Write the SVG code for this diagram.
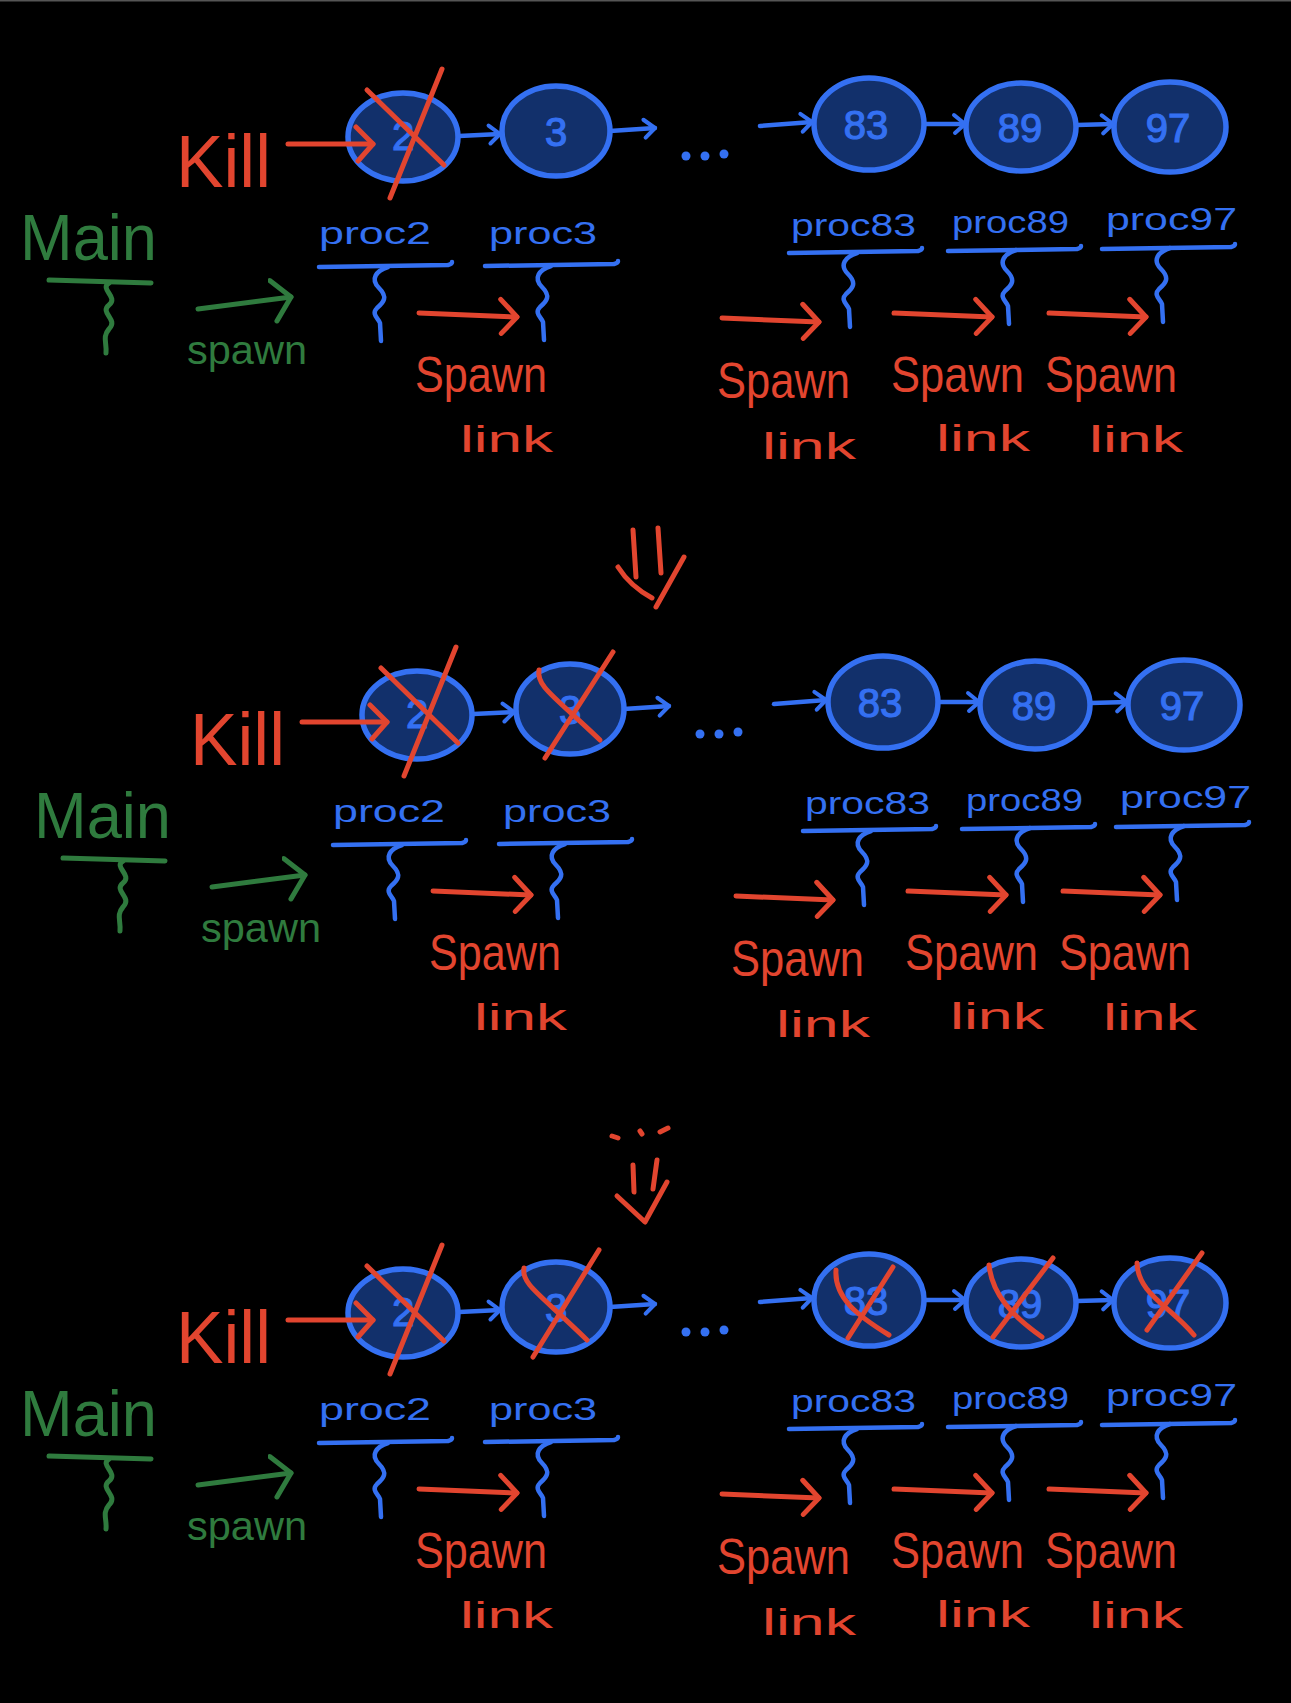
<svg xmlns="http://www.w3.org/2000/svg" xmlns:xlink="http://www.w3.org/1999/xlink" width="1291" height="1703" viewBox="0 0 1291 1703">
<style>
.bl{fill:none;stroke:#3470f2;stroke-width:4.5;stroke-linecap:round;stroke-linejoin:round}
.rd{fill:none;stroke:#e2452f;stroke-width:5;stroke-linecap:round;stroke-linejoin:round}
.gr{fill:none;stroke:#2f7b3e;stroke-width:5;stroke-linecap:round;stroke-linejoin:round}
.node{fill:#12306b;stroke:#3470f2;stroke-width:5.5}
.num{fill:#3470f2;stroke:#3470f2;stroke-width:1.2;font-family:"Liberation Sans",Arial,sans-serif;font-size:40px;text-anchor:middle}
.tb{fill:#3470f2;font-family:"Liberation Sans",Arial,sans-serif;font-size:32px}
.tr{fill:#e2452f;font-family:"Liberation Sans",Arial,sans-serif}
.tg{fill:#2f7b3e;font-family:"Liberation Sans",Arial,sans-serif}
.dot{fill:#3470f2}
</style>
<defs>
<marker id="hb" viewBox="0 0 18 24" refX="15" refY="12" markerWidth="18" markerHeight="24" markerUnits="userSpaceOnUse" orient="auto">
<path d="M4,3 L15,12 L5,21" fill="none" stroke="#3470f2" stroke-width="4" stroke-linecap="round" stroke-linejoin="round"/>
</marker>
<marker id="hr" viewBox="0 0 24 40" refX="21" refY="20" markerWidth="24" markerHeight="40" markerUnits="userSpaceOnUse" orient="auto">
<path d="M4,3 L21,20 L6,37" fill="none" stroke="#e2452f" stroke-width="5" stroke-linecap="round" stroke-linejoin="round"/>
</marker>
<marker id="hg" viewBox="0 0 24 48" refX="21" refY="22" markerWidth="24" markerHeight="48" markerUnits="userSpaceOnUse" orient="auto">
<path d="M2,3 L21,22 L4,44" fill="none" stroke="#2f7b3e" stroke-width="5" stroke-linecap="round" stroke-linejoin="round"/>
</marker>
<path id="sqb" d="M0,0 c-12,4 -18,12 -9,21 c9,9 5,14 -2,20 c-6,6 1,10 3,15 l1,18" class="bl"/>
<path id="sqg" d="M0,0 c-10,6 10,14 0,22 c-10,8 10,14 0,24 c-7,8 -2,14 -3,24" class="gr"/>
</defs>
<rect x="0" y="0" width="1291" height="1703" fill="#000"/>
<rect x="0" y="0" width="1291" height="1.5" fill="#555"/>

<!-- PANEL 1 -->
<g id="panel1">
<g id="p1-main">
<text class="tg" x="20" y="260" font-size="64" textLength="137" lengthAdjust="spacingAndGlyphs">Main</text>
<path class="gr" d="M49,280 L151,283"/>
<use xlink:href="#sqg" x="109" y="283"/>
</g>
<g id="p1-kill"><text class="tr" x="176" y="187" font-size="74" textLength="95" lengthAdjust="spacingAndGlyphs">Kill</text></g>
<g id="p1-n2"><ellipse class="node" cx="403" cy="137" rx="55" ry="44"/><text class="num" x="403" y="150" font-size="32">2</text>
<path class="rd" d="M367,90 L444,165 M442,69 L390,198"/></g>
<g id="p1-n3"><ellipse class="node" cx="556" cy="131" rx="54" ry="45"/><text class="num" x="556" y="146">3</text></g>
<g id="p1-n83"><ellipse class="node" cx="869" cy="124" rx="55" ry="46"/><text class="num" x="866" y="139">83</text></g>
<g id="p1-n89"><ellipse class="node" cx="1021" cy="127" rx="55" ry="44"/><text class="num" x="1020" y="142">89</text></g>
<g id="p1-n97"><ellipse class="node" cx="1170" cy="127" rx="56" ry="45"/><text class="num" x="1168" y="142">97</text></g>
<g id="p1-proc2"><text class="tb" x="319" y="244" textLength="112" lengthAdjust="spacingAndGlyphs">proc2</text><path class="bl" d="M319,267 L448,265 Q452,264 452,262"/><use xlink:href="#sqb" x="388" y="267"/></g>
<g id="p1-proc3"><text class="tb" x="489" y="244" textLength="108" lengthAdjust="spacingAndGlyphs">proc3</text><path class="bl" d="M485,266 L614,264 Q618,263 618,261"/><use xlink:href="#sqb" x="551" y="266"/></g>
<g id="p1-proc83"><text class="tb" x="791" y="236" textLength="125" lengthAdjust="spacingAndGlyphs">proc83</text><path class="bl" d="M789,253 L918,251 Q922,250 922,248"/><use xlink:href="#sqb" x="857" y="253"/></g>
<g id="p1-proc89"><text class="tb" x="952" y="233" textLength="117" lengthAdjust="spacingAndGlyphs">proc89</text><path class="bl" d="M948,251 L1077,249 Q1081,248 1081,246"/><use xlink:href="#sqb" x="1016" y="250"/></g>
<g id="p1-proc97"><text class="tb" x="1106" y="230" textLength="131" lengthAdjust="spacingAndGlyphs">proc97</text><path class="bl" d="M1102,249 L1231,247 Q1235,246 1235,244"/><use xlink:href="#sqb" x="1170" y="248"/></g>
<g id="p1-labels">
<text class="tg" x="187" y="364" font-size="40" textLength="120" lengthAdjust="spacingAndGlyphs">spawn</text>
<text class="tr" x="415" y="392" font-size="50" textLength="132" lengthAdjust="spacingAndGlyphs">Spawn</text>
<text class="tr" x="460" y="452" font-size="36" textLength="93" lengthAdjust="spacingAndGlyphs">link</text>
<text class="tr" x="717" y="398" font-size="50" textLength="133" lengthAdjust="spacingAndGlyphs">Spawn</text>
<text class="tr" x="762" y="459" font-size="36" textLength="94" lengthAdjust="spacingAndGlyphs">link</text>
<text class="tr" x="891" y="392" font-size="50" textLength="133" lengthAdjust="spacingAndGlyphs">Spawn</text>
<text class="tr" x="936" y="451" font-size="36" textLength="94" lengthAdjust="spacingAndGlyphs">link</text>
<text class="tr" x="1045" y="392" font-size="50" textLength="132" lengthAdjust="spacingAndGlyphs">Spawn</text>
<text class="tr" x="1089" y="452" font-size="36" textLength="94" lengthAdjust="spacingAndGlyphs">link</text>
</g>
<g id="p1-connectors">
<path class="rd" d="M288,144 L373,144" marker-end="url(#hr)"/>
<path class="bl" d="M459,136 L500,134" marker-end="url(#hb)"/>
<path class="bl" d="M610,131 L655,128" marker-end="url(#hb)"/>
<path class="bl" d="M760,126 L812,122" marker-end="url(#hb)"/>
<path class="bl" d="M925,124 L965,124" marker-end="url(#hb)"/>
<path class="bl" d="M1077,125 L1113,124" marker-end="url(#hb)"/>
<circle class="dot" cx="686" cy="156" r="4.5"/><circle class="dot" cx="705" cy="156" r="4.5"/><circle class="dot" cx="724" cy="154" r="4.5"/>
<path class="gr" d="M198,309 L291,297" marker-end="url(#hg)"/>
<path class="rd" d="M419,313 L517,317" marker-end="url(#hr)"/>
<path class="rd" d="M722,318 L819,322" marker-end="url(#hr)"/>
<path class="rd" d="M894,313 L992,317" marker-end="url(#hr)"/>
<path class="rd" d="M1049,313 L1146,317" marker-end="url(#hr)"/>
</g>
</g>

<!-- arrow between 1 and 2 -->
<g id="down1"><path class="rd" d="M633,530 L636,577 M658,528 L661,573 M618,567 Q630,586 652,598 M656,607 L684,557"/></g>

<!-- PANEL 2 -->
<g id="panel2" transform="translate(14,578)">
<g id="p2-main">
<text class="tg" x="20" y="260" font-size="64" textLength="137" lengthAdjust="spacingAndGlyphs">Main</text>
<path class="gr" d="M49,280 L151,283"/>
<use xlink:href="#sqg" x="109" y="283"/>
</g>
<g id="p2-kill"><text class="tr" x="176" y="187" font-size="74" textLength="95" lengthAdjust="spacingAndGlyphs">Kill</text></g>
<g id="p2-n2"><ellipse class="node" cx="403" cy="137" rx="55" ry="44"/><text class="num" x="403" y="150" font-size="32">2</text>
<path class="rd" d="M367,90 L444,165 M442,69 L390,198"/></g>
<g id="p2-n3"><ellipse class="node" cx="556" cy="131" rx="54" ry="45"/><text class="num" x="556" y="146" font-size="34">3</text>
<path class="rd" d="M525,92 C522,108 540,118 586,162 M599,74 L531,180"/></g>
<g id="p2-n83"><ellipse class="node" cx="869" cy="124" rx="55" ry="46"/><text class="num" x="866" y="139">83</text></g>
<g id="p2-n89"><ellipse class="node" cx="1021" cy="127" rx="55" ry="44"/><text class="num" x="1020" y="142">89</text></g>
<g id="p2-n97"><ellipse class="node" cx="1170" cy="127" rx="56" ry="45"/><text class="num" x="1168" y="142">97</text></g>
<g id="p2-proc2"><text class="tb" x="319" y="244" textLength="112" lengthAdjust="spacingAndGlyphs">proc2</text><path class="bl" d="M319,267 L448,265 Q452,264 452,262"/><use xlink:href="#sqb" x="388" y="267"/></g>
<g id="p2-proc3"><text class="tb" x="489" y="244" textLength="108" lengthAdjust="spacingAndGlyphs">proc3</text><path class="bl" d="M485,266 L614,264 Q618,263 618,261"/><use xlink:href="#sqb" x="551" y="266"/></g>
<g id="p2-proc83"><text class="tb" x="791" y="236" textLength="125" lengthAdjust="spacingAndGlyphs">proc83</text><path class="bl" d="M789,253 L918,251 Q922,250 922,248"/><use xlink:href="#sqb" x="857" y="253"/></g>
<g id="p2-proc89"><text class="tb" x="952" y="233" textLength="117" lengthAdjust="spacingAndGlyphs">proc89</text><path class="bl" d="M948,251 L1077,249 Q1081,248 1081,246"/><use xlink:href="#sqb" x="1016" y="250"/></g>
<g id="p2-proc97"><text class="tb" x="1106" y="230" textLength="131" lengthAdjust="spacingAndGlyphs">proc97</text><path class="bl" d="M1102,249 L1231,247 Q1235,246 1235,244"/><use xlink:href="#sqb" x="1170" y="248"/></g>
<g id="p2-labels">
<text class="tg" x="187" y="364" font-size="40" textLength="120" lengthAdjust="spacingAndGlyphs">spawn</text>
<text class="tr" x="415" y="392" font-size="50" textLength="132" lengthAdjust="spacingAndGlyphs">Spawn</text>
<text class="tr" x="460" y="452" font-size="36" textLength="93" lengthAdjust="spacingAndGlyphs">link</text>
<text class="tr" x="717" y="398" font-size="50" textLength="133" lengthAdjust="spacingAndGlyphs">Spawn</text>
<text class="tr" x="762" y="459" font-size="36" textLength="94" lengthAdjust="spacingAndGlyphs">link</text>
<text class="tr" x="891" y="392" font-size="50" textLength="133" lengthAdjust="spacingAndGlyphs">Spawn</text>
<text class="tr" x="936" y="451" font-size="36" textLength="94" lengthAdjust="spacingAndGlyphs">link</text>
<text class="tr" x="1045" y="392" font-size="50" textLength="132" lengthAdjust="spacingAndGlyphs">Spawn</text>
<text class="tr" x="1089" y="452" font-size="36" textLength="94" lengthAdjust="spacingAndGlyphs">link</text>
</g>
<g id="p2-connectors">
<path class="rd" d="M288,144 L373,144" marker-end="url(#hr)"/>
<path class="bl" d="M459,136 L500,134" marker-end="url(#hb)"/>
<path class="bl" d="M610,131 L655,128" marker-end="url(#hb)"/>
<path class="bl" d="M760,126 L812,122" marker-end="url(#hb)"/>
<path class="bl" d="M925,124 L965,124" marker-end="url(#hb)"/>
<path class="bl" d="M1077,125 L1113,124" marker-end="url(#hb)"/>
<circle class="dot" cx="686" cy="156" r="4.5"/><circle class="dot" cx="705" cy="156" r="4.5"/><circle class="dot" cx="724" cy="154" r="4.5"/>
<path class="gr" d="M198,309 L291,297" marker-end="url(#hg)"/>
<path class="rd" d="M419,313 L517,317" marker-end="url(#hr)"/>
<path class="rd" d="M722,318 L819,322" marker-end="url(#hr)"/>
<path class="rd" d="M894,313 L992,317" marker-end="url(#hr)"/>
<path class="rd" d="M1049,313 L1146,317" marker-end="url(#hr)"/>
</g>
</g>

<!-- arrow between 2 and 3 -->
<g id="down2"><path class="rd" d="M612,1136 L618,1138 M640,1131 L642,1134 M660,1132 L668,1128 M633,1165 L634,1192 M657,1160 L653,1189 M617,1196 L645,1222 L667,1182"/></g>

<!-- PANEL 3 -->
<g id="panel3" transform="translate(0,1176)">
<g id="p3-main">
<text class="tg" x="20" y="260" font-size="64" textLength="137" lengthAdjust="spacingAndGlyphs">Main</text>
<path class="gr" d="M49,280 L151,283"/>
<use xlink:href="#sqg" x="109" y="283"/>
</g>
<g id="p3-kill"><text class="tr" x="176" y="187" font-size="74" textLength="95" lengthAdjust="spacingAndGlyphs">Kill</text></g>
<g id="p3-n2"><ellipse class="node" cx="403" cy="137" rx="55" ry="44"/><text class="num" x="403" y="150" font-size="32">2</text>
<path class="rd" d="M367,90 L444,165 M442,69 L390,198"/></g>
<g id="p3-n3"><ellipse class="node" cx="556" cy="131" rx="54" ry="45"/><text class="num" x="556" y="146" font-size="34">3</text>
<path class="rd" d="M524,92 C521,108 540,118 587,164 M599,74 L533,181"/></g>
<g id="p3-n83"><ellipse class="node" cx="869" cy="124" rx="55" ry="46"/><text class="num" x="866" y="139">83</text>
<path class="rd" d="M836,94 C834,122 858,140 889,159 M893,91 L848,162"/></g>
<g id="p3-n89"><ellipse class="node" cx="1021" cy="127" rx="55" ry="44"/><text class="num" x="1020" y="142">89</text>
<path class="rd" d="M989,89 C992,118 1012,140 1042,161 M1053,82 L993,161"/></g>
<g id="p3-n97"><ellipse class="node" cx="1170" cy="127" rx="56" ry="45"/><text class="num" x="1168" y="142">97</text>
<path class="rd" d="M1137,87 C1138,118 1170,130 1194,159 M1202,77 L1147,154"/></g>
<g id="p3-proc2"><text class="tb" x="319" y="244" textLength="112" lengthAdjust="spacingAndGlyphs">proc2</text><path class="bl" d="M319,267 L448,265 Q452,264 452,262"/><use xlink:href="#sqb" x="388" y="267"/></g>
<g id="p3-proc3"><text class="tb" x="489" y="244" textLength="108" lengthAdjust="spacingAndGlyphs">proc3</text><path class="bl" d="M485,266 L614,264 Q618,263 618,261"/><use xlink:href="#sqb" x="551" y="266"/></g>
<g id="p3-proc83"><text class="tb" x="791" y="236" textLength="125" lengthAdjust="spacingAndGlyphs">proc83</text><path class="bl" d="M789,253 L918,251 Q922,250 922,248"/><use xlink:href="#sqb" x="857" y="253"/></g>
<g id="p3-proc89"><text class="tb" x="952" y="233" textLength="117" lengthAdjust="spacingAndGlyphs">proc89</text><path class="bl" d="M948,251 L1077,249 Q1081,248 1081,246"/><use xlink:href="#sqb" x="1016" y="250"/></g>
<g id="p3-proc97"><text class="tb" x="1106" y="230" textLength="131" lengthAdjust="spacingAndGlyphs">proc97</text><path class="bl" d="M1102,249 L1231,247 Q1235,246 1235,244"/><use xlink:href="#sqb" x="1170" y="248"/></g>
<g id="p3-labels">
<text class="tg" x="187" y="364" font-size="40" textLength="120" lengthAdjust="spacingAndGlyphs">spawn</text>
<text class="tr" x="415" y="392" font-size="50" textLength="132" lengthAdjust="spacingAndGlyphs">Spawn</text>
<text class="tr" x="460" y="452" font-size="36" textLength="93" lengthAdjust="spacingAndGlyphs">link</text>
<text class="tr" x="717" y="398" font-size="50" textLength="133" lengthAdjust="spacingAndGlyphs">Spawn</text>
<text class="tr" x="762" y="459" font-size="36" textLength="94" lengthAdjust="spacingAndGlyphs">link</text>
<text class="tr" x="891" y="392" font-size="50" textLength="133" lengthAdjust="spacingAndGlyphs">Spawn</text>
<text class="tr" x="936" y="451" font-size="36" textLength="94" lengthAdjust="spacingAndGlyphs">link</text>
<text class="tr" x="1045" y="392" font-size="50" textLength="132" lengthAdjust="spacingAndGlyphs">Spawn</text>
<text class="tr" x="1089" y="452" font-size="36" textLength="94" lengthAdjust="spacingAndGlyphs">link</text>
</g>
<g id="p3-connectors">
<path class="rd" d="M288,144 L373,144" marker-end="url(#hr)"/>
<path class="bl" d="M459,136 L500,134" marker-end="url(#hb)"/>
<path class="bl" d="M610,131 L655,128" marker-end="url(#hb)"/>
<path class="bl" d="M760,126 L812,122" marker-end="url(#hb)"/>
<path class="bl" d="M925,124 L965,124" marker-end="url(#hb)"/>
<path class="bl" d="M1077,125 L1113,124" marker-end="url(#hb)"/>
<circle class="dot" cx="686" cy="156" r="4.5"/><circle class="dot" cx="705" cy="156" r="4.5"/><circle class="dot" cx="724" cy="154" r="4.5"/>
<path class="gr" d="M198,309 L291,297" marker-end="url(#hg)"/>
<path class="rd" d="M419,313 L517,317" marker-end="url(#hr)"/>
<path class="rd" d="M722,318 L819,322" marker-end="url(#hr)"/>
<path class="rd" d="M894,313 L992,317" marker-end="url(#hr)"/>
<path class="rd" d="M1049,313 L1146,317" marker-end="url(#hr)"/>
</g>
</g>
</svg>
